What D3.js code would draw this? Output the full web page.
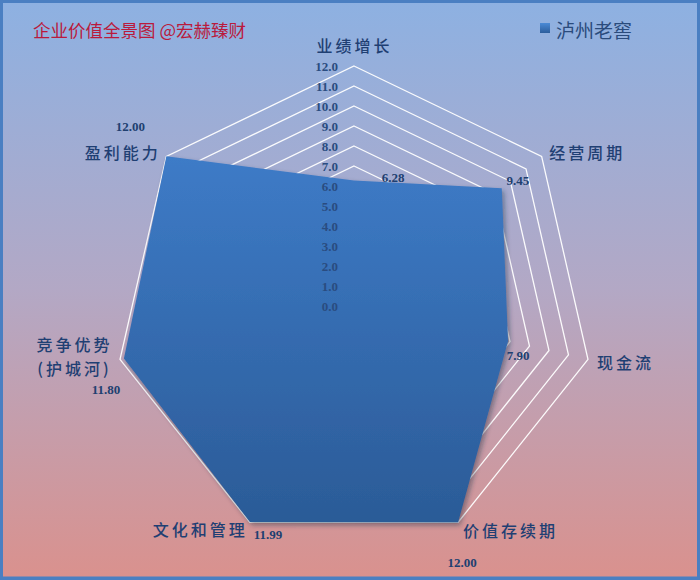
<!DOCTYPE html>
<html>
<head>
<meta charset="utf-8">
<script src="https://cdn.jsdelivr.net/npm/d3@7"></script>
<style>
  html, body { margin: 0; padding: 0; background: #fff; }
  svg { display: block; }
</style>
</head>
<body>
<svg id="chart" width="700" height="580"></svg>
<script>
// ---- data ----
const titleText = "企业价值全景图 @宏赫臻财";
const seriesName = "泸州老窖";
const categories = ["业绩增长", "经营周期", "现金流", "价值存续期", "文化和管理", "竞争优势\n(护城河)", "盈利能力"];
const values = [6.28, 9.45, 7.90, 12.00, 11.99, 11.80, 12.00];
const tickValues = [0, 1, 2, 3, 4, 5, 6, 7, 8, 9, 10, 11, 12];
const tickLabels = ["0.0", "1.0", "2.0", "3.0", "4.0", "5.0", "6.0", "7.0", "8.0", "9.0", "10.0", "11.0", "12.0"];

// ---- layout (styles / offsets, not data) ----
const W = 700, H = 580;
const cx = 354, cy = 306, R = 240;
const valueLabelOffsets = [[39, -3], [16, -8], [10, 14], [4, 40], [18, 12], [-18, 31], [-36, -30]];
const catLabelOffsets = [[-1, -21], [44, -4], [36, 3], [51, 8], [-51, 7], [-47, -3], [-45, -4]];

const svg = d3.select("#chart");
const defs = svg.append("defs");

const bg = defs.append("linearGradient").attr("id", "bg").attr("x1", 0).attr("y1", 0).attr("x2", 0).attr("y2", 1);
bg.append("stop").attr("offset", "0%").attr("stop-color", "#8DB1E2");
bg.append("stop").attr("offset", "50%").attr("stop-color", "#B3A8C5");
bg.append("stop").attr("offset", "100%").attr("stop-color", "#DA918D");

const pg = defs.append("linearGradient").attr("id", "pg").attr("gradientUnits", "userSpaceOnUse")
  .attr("x1", 0).attr("y1", cy - R).attr("x2", 0).attr("y2", cy + R * 0.9);
pg.append("stop").attr("offset", "0%").attr("stop-color", "#4283D3");
pg.append("stop").attr("offset", "100%").attr("stop-color", "#2B5B97");

const lg = defs.append("linearGradient").attr("id", "lg").attr("x1", 0).attr("y1", 0).attr("x2", 0).attr("y2", 1);
lg.append("stop").attr("offset", "0%").attr("stop-color", "#4A8AD6");
lg.append("stop").attr("offset", "100%").attr("stop-color", "#2C5E9C");

const sh = defs.append("filter").attr("id", "shadow").attr("x", "-10%").attr("y", "-10%").attr("width", "130%").attr("height", "130%");
sh.append("feDropShadow").attr("dx", 2).attr("dy", 3).attr("stdDeviation", 2.5)
  .attr("flood-color", "#1a2a40").attr("flood-opacity", 0.45);

// background + border
svg.append("rect").attr("x", 0).attr("y", 0).attr("width", W).attr("height", H).attr("fill", "url(#bg)");
svg.append("rect").attr("x", 1.5).attr("y", 1.5).attr("width", W - 3).attr("height", H - 3.5)
  .attr("fill", "none").attr("stroke", "#4A7FC2").attr("stroke-width", 3);
svg.append("rect").attr("x", 0).attr("y", H - 3).attr("width", W).attr("height", 3).attr("fill", "#4A7FC2");

// scales
const r = d3.scaleLinear().domain([0, 12]).range([0, R]);
const ang = d3.scaleLinear().domain([0, categories.length]).range([-Math.PI / 2, 1.5 * Math.PI]);
const pt = (i, v) => [cx + r(v) * Math.cos(ang(i)), cy + r(v) * Math.sin(ang(i))];

// grid
const line = d3.line().curve(d3.curveLinearClosed);
svg.append("g").selectAll("path").data(tickValues.filter(t => t > 0)).join("path")
  .attr("d", t => line(categories.map((c, i) => pt(i, t))))
  .attr("fill", "none").attr("stroke", "#FFFFFF").attr("stroke-width", 1.3).attr("stroke-opacity", 0.95);

// series polygon
svg.append("path")
  .attr("d", line(values.map((v, i) => pt(i, v))))
  .attr("fill", "url(#pg)")
  .attr("filter", "url(#shadow)");

// tick labels
svg.append("g").selectAll("text").data(tickValues).join("text")
  .attr("x", cx - 16).attr("y", t => cy - r(t))
  .attr("text-anchor", "end").attr("dominant-baseline", "central")
  .attr("font-family", "Liberation Serif, serif").attr("font-weight", "bold").attr("font-size", 13)
  .attr("fill", "#2A4C80")
  .text((t, i) => tickLabels[i]);

// value labels
svg.append("g").selectAll("text").data(values).join("text")
  .attr("x", (v, i) => pt(i, v)[0] + valueLabelOffsets[i][0])
  .attr("y", (v, i) => pt(i, v)[1] + valueLabelOffsets[i][1])
  .attr("text-anchor", "middle").attr("dominant-baseline", "central")
  .attr("font-family", "Liberation Serif, serif").attr("font-weight", "bold").attr("font-size", 13)
  .attr("fill", "#203F70")
  .text(v => v.toFixed(2));

// category labels
const cat = svg.append("g").selectAll("text").data(categories).join("text")
  .attr("text-anchor", "middle")
  .attr("font-family", "Noto Sans CJK SC, sans-serif").attr("font-weight", 500).attr("font-size", 16)
  .attr("letter-spacing", 3)
  .attr("fill", "#1F3F73");
cat.each(function (c, i) {
  const [x, y] = pt(i, 12);
  const lx = x + catLabelOffsets[i][0], ly = y + catLabelOffsets[i][1];
  const lines = c.split("\n");
  const t = d3.select(this);
  lines.forEach((s, k) => {
    t.append("tspan").attr("x", lx + 1.5)
      .attr("y", ly + (k - (lines.length - 1) / 2) * 24)
      .attr("dominant-baseline", "central")
      .text(s);
  });
});

// title
svg.append("text").attr("x", 33).attr("y", 37)
  .attr("font-family", "Noto Sans CJK SC, sans-serif").attr("font-size", 17.5)
  .attr("fill", "#BA1A3C").text(titleText);

// legend
svg.append("rect").attr("x", 540).attr("y", 23).attr("width", 10).attr("height", 10).attr("fill", "url(#lg)");
svg.append("text").attr("x", 556).attr("y", 38)
  .attr("font-family", "Noto Sans CJK SC, sans-serif").attr("font-size", 19)
  .attr("fill", "#2A4B7C").text(seriesName);
</script>
</body>
</html>
